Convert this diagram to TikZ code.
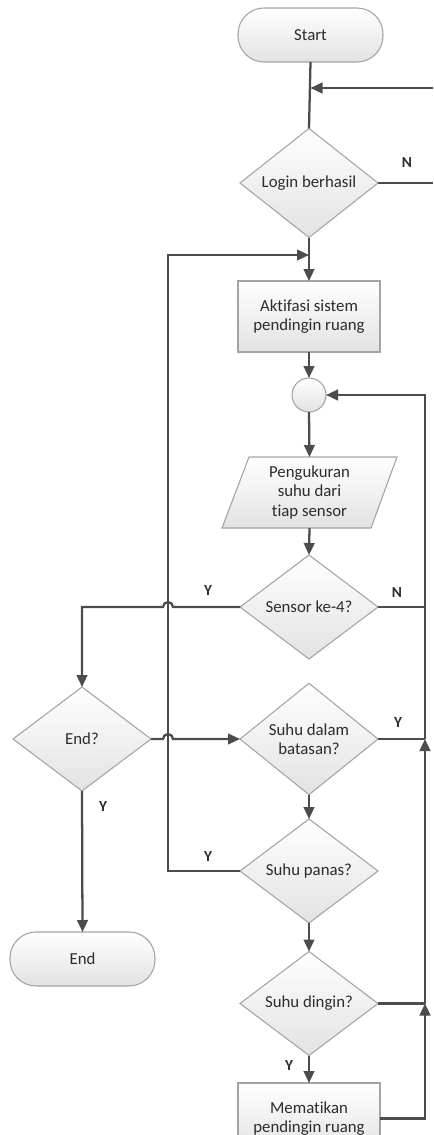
\documentclass[tikz,border=0pt]{standalone}
\usepackage{fontspec}
\setmainfont{Carlito}[Ligatures=NoCommon]
\usetikzlibrary{shapes.geometric,arrows.meta}
\definecolor{linec}{HTML}{4C4C4C}
\definecolor{bordc}{HTML}{A4A4A4}
\definecolor{fillb}{HTML}{E2E2E2}
\definecolor{textc}{HTML}{2C2C2C}
\tikzset{
  txt/.style={text=textc, font=\fontsize{12.6}{14.6}\selectfont, align=center, inner sep=0pt, outer sep=0pt},
  shp/.style={txt, draw=bordc, line width=0.8pt, top color=white, bottom color=fillb},
  term/.style={shp, rectangle, rounded corners=19.5pt, minimum width=108.75pt, minimum height=40.5pt},
  proc/.style={shp, rectangle, minimum width=106.5pt, minimum height=53.25pt},
  dec/.style={shp, diamond, minimum width=103.5pt, minimum height=78pt},
  conn/.style={shp, circle, minimum size=25.5pt},
  con/.style={draw=linec, line width=1.7pt},
  arr/.style={con, -{Triangle[length=9pt,width=8pt]}},
  lab/.style={text=textc, font=\fontsize{11.5}{13}\selectfont\bfseries, inner sep=0pt}
}
\begin{document}
\begin{tikzpicture}[x=0.75pt,y=-0.75pt]
\clip (0,0) rectangle (433,1135);
% nodes
\node[term] (start) at (310.5,35) {Start};
\node[dec] (login) at (309,183) {Login berhasil};
\node[proc] (akt) at (309,316.5) {Aktifasi sistem\\pendingin ruang};
\node[conn] (circ) at (309,395) {};
\path[draw=bordc, line width=0.8pt, top color=white, bottom color=fillb] (222,528) -- (371,528) -- (397,457) -- (249,457) -- cycle;
\node[txt, minimum height=53.25pt, minimum width=80pt] (meas) at (309.5,492.5) {Pengukuran\\suhu dari\\tiap sensor};
\node[dec] (sensor) at (309,607) {Sensor ke-4?};
\node[dec] (endq) at (82,739) {End?};
\node[dec] (dalam) at (309,739) {Suhu dalam\\batasan?};
\node[dec] (panas) at (309,871) {Suhu panas?};
\node[dec] (dingin) at (309,1003.5) {Suhu dingin?};
\node[term] (endt) at (82.5,959) {End};
\node[proc] (mati) at (309,1118.5) {Mematikan\\pendingin ruang};
% helper coordinates
\coordinate (rin) at (433,88);
\coordinate (rout) at (433,183);
\coordinate (lx) at (168,255);
\coordinate (rx) at (425,395);
% connectors
\draw[con] (start.south) -- (login.north);
\draw[arr] (rin) -- (start.south |- rin);
\draw[con] (login.east) -- (rout);
\draw[arr] (login.south) -- (akt.north);
\draw[arr] (panas.west) -- (lx |- panas.west) -- (lx) -- (login.south |- lx);
\draw[arr] (akt.south) -- (circ.north);
\draw[arr] (circ.south) -- (meas.north);
\draw[arr] (meas.south) -- (sensor.north);
\draw[arr] (sensor.east) -- (rx |- sensor.east) -- (rx) -- (circ.east);
\draw[arr] (sensor.west) -- (173,607) arc[start angle=0,end angle=-180,radius=5] -- (endq.north |- sensor.west) -- (endq.north);
\draw[arr] (endq.east) -- (163,739) arc[start angle=180,end angle=360,radius=5] -- (dalam.west);
\draw[arr] (endq.south) -- (endt.north);
\draw[arr] (dalam.south) -- (panas.north);
\draw[arr] (panas.south) -- (dingin.north);
\draw[arr] (dingin.south) -- (mati.north);
\draw[con] (dalam.east) -- (rx |- dalam.east);
\draw[con] (dingin.east) -- (rx |- dingin.east);
\draw[arr] (mati.east) -- (rx |- mati.east) -- (rx |- dingin.east);
\draw[arr] (rx |- dingin.east) -- (rx |- dalam.east);
\draw[con] (rx |- dalam.east) -- (rx |- sensor.east);
% labels
\node[lab] (ln1) at (407,163) {N};
\node[lab] (ly1) at (208,591) {Y};
\node[lab] (ln2) at (397,593) {N};
\node[lab] (ly2) at (398,723) {Y};
\node[lab] (ly3) at (103,807) {Y};
\node[lab] (ly4) at (208,857) {Y};
\node[lab] (ly5) at (289,1066) {Y};
\end{tikzpicture}
\end{document}
